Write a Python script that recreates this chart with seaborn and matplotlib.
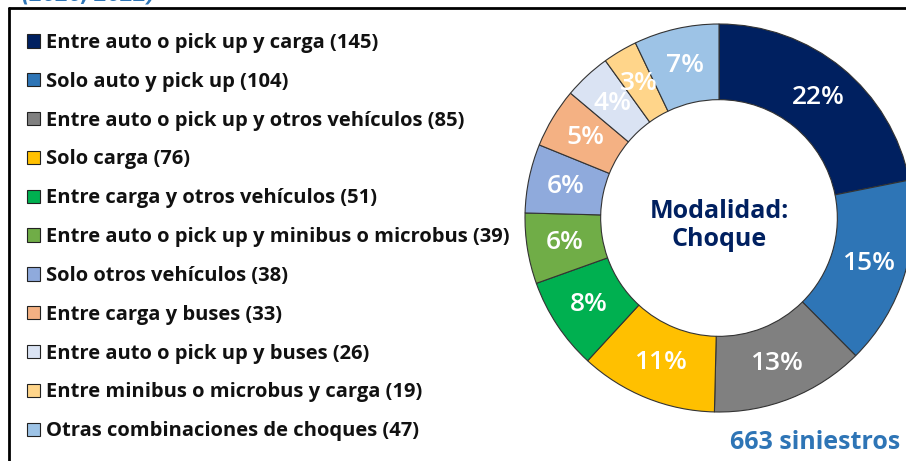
import matplotlib
matplotlib.use("Agg")
import matplotlib.pyplot as plt
from matplotlib.patches import Patch
from matplotlib.lines import Line2D
import seaborn as sns

# Data
categories = [
    "Entre auto o pick up y carga",
    "Solo auto y pick up",
    "Entre auto o pick up y otros vehículos",
    "Solo carga",
    "Entre carga y otros vehículos",
    "Entre auto o pick up y minibus o microbus",
    "Solo otros vehículos",
    "Entre carga y buses",
    "Entre auto o pick up y buses",
    "Entre minibus o microbus y carga",
    "Otras combinaciones de choques",
]
counts = [145, 104, 85, 76, 51, 39, 38, 33, 26, 19, 47]
pct_labels = ["22%", "15%", "13%", "11%", "8%", "6%", "6%", "5%", "4%", "3%", "7%"]
colors = [
    "#002060", "#2E75B6", "#808080", "#FFC000", "#00B050", "#70AD47",
    "#8FAADC", "#F4B183", "#DAE3F3", "#FFD58A", "#9DC3E6",
]
center_text = "Modalidad:\nChoque"
total_text = "663 siniestros"
title_text = "(2020, 2022)"

sns.set_theme(style="white")
plt.rcParams["font.family"] = ["Open Sans", "DejaVu Sans"]

W, H = 906, 461
fig = plt.figure(figsize=(W / 100, H / 100), dpi=100)

# donut axes: centre (719, 218) px, outer radius 194 px
cx, cy, r = 719, 218, 194
ax = fig.add_axes([(cx - r) / W, (H - cy - r) / H, 2 * r / W, 2 * r / H])
wedges, texts = ax.pie(
    counts,
    colors=colors,
    startangle=90,
    counterclock=False,
    radius=1.0,
    labels=pct_labels,
    labeldistance=0.805,
    wedgeprops=dict(width=0.39, edgecolor="#333333", linewidth=0.8),
    textprops=dict(color="white", fontsize=19, fontweight="semibold"),
)
for t in texts:
    t.set_horizontalalignment("center")
    t.set_verticalalignment("center")
ax.set_xlim(-1, 1)
ax.set_ylim(-1, 1)
ax.set_aspect("equal")
ax.text(0, -0.04, center_text, ha="center", va="center", fontsize=18,
        fontweight="bold", color="#002060", linespacing=1.15)

# legend on the left
handles = [
    Patch(facecolor=c, edgecolor="#222222", linewidth=0.8, label=f"{n} ({v})")
    for n, v, c in zip(categories, counts, colors)
]
leg = fig.legend(
    handles=handles, loc="upper left", bbox_to_anchor=(27 / W, 1 - 33 / H),
    frameon=False, prop=dict(weight="bold", size=14.5),
    handlelength=0.65, handleheight=0.65, handletextpad=0.28,
    labelspacing=0.935, borderaxespad=0, borderpad=0,
)
for t in leg.get_texts():
    t.set_color("#111111")

# partial frame (top and left edges)
fig.add_artist(Line2D([9 / W, 1], [1 - 8 / H, 1 - 8 / H], color="black", lw=2))
fig.add_artist(Line2D([9 / W, 9 / W], [1 - 8 / H, 0], color="black", lw=2))

# clipped title at the very top
fig.text(155 / W, 1 - 1 / H, title_text, ha="right", va="baseline",
         fontsize=17, fontweight="bold", fontstyle="italic", color="#2E75B6")

fig.text(900 / W, 1 - 442 / H, total_text, ha="right", va="center",
         fontsize=18, fontweight="bold", color="#2E75B6")

fig.savefig("out.png", dpi=100)
